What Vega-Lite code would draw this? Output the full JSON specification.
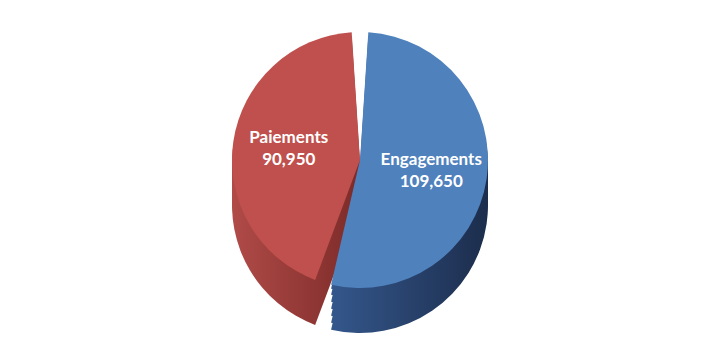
{
  "$schema": "https://vega.github.io/schema/vega-lite/v6.json",
  "width": 720,
  "height": 360,
  "autosize": {"type": "fit", "contains": "padding"},
  "background": "white",
  "config": {"view": {"stroke": null}},
  "data": {"values": [
    {"category": "Engagements", "value": 109650, "order": 1},
    {"category": "Paiements", "value": 90950, "order": 2}
  ]},
  "encoding": {
    "theta": {"field": "value", "type": "quantitative", "stack": true},
    "order": {"field": "order", "type": "quantitative"}
  },
  "layer": [
    {"mark": {"type": "arc", "outerRadius": 128, "padAngle": 0.13, "yOffset": 25},
      "encoding": {"fill": {"condition": {"test": "datum.category === 'Engagements'", "value": {"gradient": "linear", "x1": 0, "x2": 1, "y1": 0, "y2": 0, "stops": [{"offset": 0, "color": "#34578C"}, {"offset": 1, "color": "#1C2D4C"}]}}, "value": {"gradient": "linear", "x1": 0, "x2": 1, "y1": 0, "y2": 0, "stops": [{"offset": 0, "color": "#B04B48"}, {"offset": 1, "color": "#7C2B29"}]}}}},
    {"mark": {"type": "arc", "outerRadius": 128, "padAngle": 0.13, "yOffset": 18},
      "encoding": {"fill": {"condition": {"test": "datum.category === 'Engagements'", "value": {"gradient": "linear", "x1": 0, "x2": 1, "y1": 0, "y2": 0, "stops": [{"offset": 0, "color": "#34578C"}, {"offset": 1, "color": "#1C2D4C"}]}}, "value": {"gradient": "linear", "x1": 0, "x2": 1, "y1": 0, "y2": 0, "stops": [{"offset": 0, "color": "#B04B48"}, {"offset": 1, "color": "#7C2B29"}]}}}},
    {"mark": {"type": "arc", "outerRadius": 128, "padAngle": 0.13, "yOffset": 11},
      "encoding": {"fill": {"condition": {"test": "datum.category === 'Engagements'", "value": {"gradient": "linear", "x1": 0, "x2": 1, "y1": 0, "y2": 0, "stops": [{"offset": 0, "color": "#34578C"}, {"offset": 1, "color": "#1C2D4C"}]}}, "value": {"gradient": "linear", "x1": 0, "x2": 1, "y1": 0, "y2": 0, "stops": [{"offset": 0, "color": "#B04B48"}, {"offset": 1, "color": "#7C2B29"}]}}}},
    {"mark": {"type": "arc", "outerRadius": 128, "padAngle": 0.13, "yOffset": 4},
      "encoding": {"fill": {"condition": {"test": "datum.category === 'Engagements'", "value": {"gradient": "linear", "x1": 0, "x2": 1, "y1": 0, "y2": 0, "stops": [{"offset": 0, "color": "#34578C"}, {"offset": 1, "color": "#1C2D4C"}]}}, "value": {"gradient": "linear", "x1": 0, "x2": 1, "y1": 0, "y2": 0, "stops": [{"offset": 0, "color": "#B04B48"}, {"offset": 1, "color": "#7C2B29"}]}}}},
    {"mark": {"type": "arc", "outerRadius": 128, "padAngle": 0.13, "yOffset": -3},
      "encoding": {"fill": {"condition": {"test": "datum.category === 'Engagements'", "value": {"gradient": "linear", "x1": 0, "x2": 1, "y1": 0, "y2": 0, "stops": [{"offset": 0, "color": "#34578C"}, {"offset": 1, "color": "#1C2D4C"}]}}, "value": {"gradient": "linear", "x1": 0, "x2": 1, "y1": 0, "y2": 0, "stops": [{"offset": 0, "color": "#B04B48"}, {"offset": 1, "color": "#7C2B29"}]}}}},
    {"mark": {"type": "arc", "outerRadius": 128, "padAngle": 0.13, "yOffset": -10},
      "encoding": {"fill": {"condition": {"test": "datum.category === 'Engagements'", "value": {"gradient": "linear", "x1": 0, "x2": 1, "y1": 0, "y2": 0, "stops": [{"offset": 0, "color": "#34578C"}, {"offset": 1, "color": "#1C2D4C"}]}}, "value": {"gradient": "linear", "x1": 0, "x2": 1, "y1": 0, "y2": 0, "stops": [{"offset": 0, "color": "#B04B48"}, {"offset": 1, "color": "#7C2B29"}]}}}},
    {"mark": {"type": "arc", "outerRadius": 128, "padAngle": 0.13, "yOffset": -16},
      "encoding": {"fill": {"condition": {"test": "datum.category === 'Engagements'", "value": {"gradient": "linear", "x1": 0, "x2": 1, "y1": 0, "y2": 0, "stops": [{"offset": 0, "color": "#34578C"}, {"offset": 1, "color": "#1C2D4C"}]}}, "value": {"gradient": "linear", "x1": 0, "x2": 1, "y1": 0, "y2": 0, "stops": [{"offset": 0, "color": "#B04B48"}, {"offset": 1, "color": "#7C2B29"}]}}}},
    {"mark": {"type": "arc", "outerRadius": 128, "padAngle": 0.13, "yOffset": -20},
      "encoding": {"fill": {"condition": {"test": "datum.category === 'Engagements'", "value": "#4F81BD"}, "value": "#C0504D"}}},
    {"mark": {"type": "text", "radius": 72, "yOffset": -31, "font": "Lato", "fontSize": 17, "fontWeight": "bold", "fill": "white"},
      "encoding": {"text": {"field": "category", "type": "nominal"}}},
    {"mark": {"type": "text", "radius": 72, "yOffset": -9, "font": "Lato", "fontSize": 17, "fontWeight": "bold", "fill": "white"},
      "encoding": {"text": {"field": "value", "type": "quantitative", "format": ","}}}
  ]
}
